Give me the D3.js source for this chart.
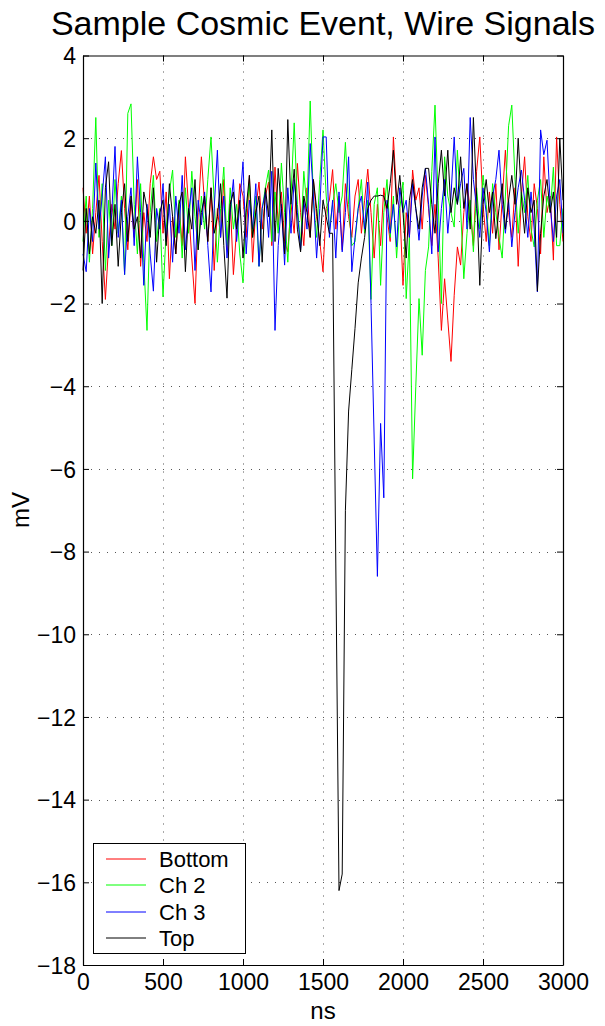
<!DOCTYPE html>
<html>
<head>
<meta charset="utf-8">
<script src="https://cdn.jsdelivr.net/npm/d3@7"></script>
<style>
  body { margin: 0; background: #fff; }
  text { font-family: "Liberation Sans", Arial, Helvetica, sans-serif; fill: #000; }
</style>
</head>
<body>
<svg id="chart" width="605" height="1026"></svg>
<script>
// Sampling grid of the digitiser (ns), one sample every 20 ns
const sampleTimes = d3.range(0, 3001, 20);

// Wire signals in mV
const bottomWire = [
  0.8, -0.3, 0.6, -0.8, 0.2, 1.1, -0.5, -1.9, -0.6, 0.4,
  -0.2, 0.9, 1.7, 0.3, -0.7, 0.5, -0.4, 1.0, -1.1, 0.2,
  -0.5, 0.9, 1.55, 1.0, 1.2, -0.3, 0.7, -1.4, 0.1, -0.8,
  0.4, -0.6, 1.55, 0.3, -0.9, -2.0, 0.2, 1.55, 0.4, -0.5,
  0.8, -1.2, 0.3, -0.4, 1.0, -0.7, 0.5, -1.3, -0.2, 0.9,
  0.6, -0.4, 1.1, -1.0, 0.3, 0.94, -0.2, 0.6, 0.94, -0.6,
  1.3, -0.1, 0.7, -0.5, -0.75, 0.4, -0.3, 1.39, 0.2, -0.6,
  0.8, -0.4, 1.0, 0.1, -0.5, -1.23, 0.3, 0.5, 1.24, -0.2,
  0.6, -0.7, 0.9, 0.1, -0.4, 0.6, 1.0, -0.3, 0.5, 1.25,
  0.2, -0.9, 0.4, -0.6, 0.8, 0.1, -0.5, 2.03, 0.6, 0.3,
  -1.56, 0.2, -0.4, 1.23, 0.5, 0.8, -0.2, 1.1, 0.3, -0.6,
  0.4, -0.9, -2.65, -1.4, -2.4, -3.4, -1.8, -0.63, -1.07, 0.2,
  0.9, 0.3, -0.6, 1.2, 2.03, 0.4, -0.5, 0.7, -0.3, 0.9,
  -0.7, 0.5, 1.71, 0.2, -0.4, 0.8, -1.1, 0.6, 1.55, 0.1,
  -0.5, 0.9, 0.3, -0.8, 1.55, 0.2, 0.6, -0.95, 2.03, 0.4,
  -0.5
];
const ch2Wire = [
  -0.5, 0.6, -1.0, 0.3, 2.5, -0.4, 0.9, -1.2, 0.5, -0.6,
  1.0, -0.3, 0.6, -1.3, 2.6, 2.83, 0.4, -0.8, 0.9, -1.0,
  -2.65, 0.2, 1.1, -0.5, 0.3, -1.84, -0.2, 0.7, 1.23, -0.4,
  0.5, -0.9, 0.8, -0.3, 1.2, 0.1, -0.7, 0.6, -0.2, 1.0,
  2.03, 0.5, -1.0, 0.3, 1.3, -0.6, 0.8, -0.2, 0.4, -0.8,
  -1.5, 0.2, 0.9, -0.4, 0.6, -1.1, 0.3, 0.8, 1.23, -0.5,
  0.7, -0.3, 1.4, 0.2, -1.0, 0.6, 2.37, 0.4, -0.6, 1.2,
  0.3, 2.9, 0.5, -0.4, 1.0, 2.2, 0.6, -0.2, 0.4, 0.9,
  0.2, 0.6, 1.9, 0.4, -0.6, -0.5, 0.3, 1.0, -0.3, 0.5,
  -1.9, 0.4, 0.8, -1.56, 0.2, 1.0, -0.4, 0.6, -0.9, 0.3,
  0.94, -1.88, -0.4, -6.24, -4.0, -1.88, -3.25, -1.2, -0.63, 1.2,
  2.8, 0.5, -2.0, 1.55, 0.6, 0.2, -0.15, 1.71, 0.3, -1.4,
  -0.3, 0.5, -0.75, 0.8, -0.2, 1.1, 0.4, -0.6, 0.9, 0.2,
  -0.4, -0.9, 0.6, 2.3, 2.8, 1.0, -0.3, 0.7, 0.2, 1.1,
  -0.2, -0.63, 0.5, 1.0, -0.4, 0.6, 0.2, 1.3, -0.6, -0.6,
  0.3
];
const ch3Wire = [
  -0.8, -1.23, 0.3, -0.5, 1.4, -0.2, 0.6, 1.55, -0.9, 0.2,
  1.8, -0.4, 0.5, -1.3, 0.1, 0.8, -0.6, 1.55, 0.2, -1.56,
  0.4, -0.8, -1.7, 0.3, -0.2, 0.9, -0.5, 0.4, -1.0, 0.6,
  -0.3, 1.1, -0.7, 0.2, 0.8, -1.2, 0.5, -0.1, 0.7, -0.6,
  -1.72, 0.3, 1.71, -0.4, 0.6, -0.9, 0.2, 1.0, -0.5, 0.4,
  1.43, -0.8, 0.5, -0.2, 0.9, -1.1, 0.3, 0.7, -0.4, 1.2,
  -2.65, -0.6, 0.4, -1.07, 0.8, -0.3, 1.0, 0.2, -0.7, 0.5,
  -0.2, 1.87, 0.6, -0.9, 0.3, 2.03, 2.03, -0.4, 0.5, -0.9,
  0.7, -0.75, 0.2, 1.55, -1.23, -0.4, 0.3, 0.6, -0.2, 0.94,
  -2.0, -5.3, -8.6, -4.9, -6.7, 0.5, -0.3, 0.4, -0.63, 0.8,
  0.2, 0.5, -0.4, 0.9, 0.3, -0.47, 0.6, 1.27, 0.4, -0.8,
  2.03, -0.75, 0.3, 1.0, -0.3, 0.6, 2.03, 0.4, 0.9, 1.27,
  -0.2, 2.5, 1.0, 0.3, -0.4, 0.8, 0.2, -0.75, 0.6, 1.0,
  1.71, 0.4, -0.3, 0.5, -0.63, 0.2, 0.8, 1.23, 0.5, -0.4,
  0.7, -0.2, -1.72, 2.2, 1.6, 1.95, 0.4, -0.5, 0.6, 1.0,
  -0.3
];
const topWire = [
  -1.2, 0.3, -0.8, 0.1, -0.3, 0.5, -2.0, 0.8, 1.43, -0.6,
  0.4, -1.1, 0.2, 0.9, -0.5, 0.6, -0.2, 0.1, -0.9, 0.7,
  0.3, -0.4, 0.8, -1.0, 0.2, 0.5, -0.6, 0.9, 0.1, -0.8,
  0.4, 0.7, -1.23, 0.3, -0.2, 1.0, -0.7, 0.2, 0.6, -0.5,
  0.8, -0.3, 0.1, 0.9, -0.6, -1.87, 0.4, 0.7, -0.2, 0.5,
  -0.9, 0.3, 1.1, -0.4, 0.2, 0.6, -1.0, 0.8, 0.1, 2.2,
  -0.5, 1.27, 0.3, -0.8, 2.45, 0.4, 1.25, -0.2, -0.75, 0.6,
  0.2, -0.4, 1.0, 0.3, -0.6, 0.5, 0.1, -0.3, -0.3, -8.3,
  -16.2, -15.8, -7.0, -4.6, -3.6, -2.6, -1.5, -0.9, -0.4, 0.3,
  0.5, 0.6, 0.6, 0.62, 0.6, 0.3, 0.9, 1.71, 0.4, 1.1,
  0.2, -0.9, 0.5, 1.0, 0.3, -0.2, 0.8, 1.27, 1.27, 0.4,
  -0.3, 0.9, 1.71, 0.6, 1.71, 0.2, 0.8, 0.4, 1.55, 0.3,
  0.9, -0.2, 2.5, 0.6, -1.56, 0.4, 1.0, 0.2, 0.7, -0.43,
  0.3, 0.9, -0.2, 0.5, 1.1, 0.4, 2.0, 0.6, -0.3, 0.8,
  0.2, 0.5, -1.7, -0.3, 0.6, 1.0, 0.2, 0.7, -0.4, 2.0,
  0.5
];

const seriesNames = ["Bottom", "Ch 2", "Ch 3", "Top"];
const seriesColors = ["#ff0000", "#00ff00", "#0000ff", "#000000"];
const seriesValues = [bottomWire, ch2Wire, ch3Wire, topWire];

const xTicks = [0, 500, 1000, 1500, 2000, 2500, 3000];
const yTicks = [-18, -16, -14, -12, -10, -8, -6, -4, -2, 0, 2, 4];

const svg = d3.select("#chart");
const left = 83, right = 563, plotTop = 55.5, plotBottom = 965;

const x = d3.scaleLinear().domain([0, 3000]).range([left, right]);
const y = d3.scaleLinear().domain([-18, 4]).range([plotBottom, plotTop]);

// Dotted grid
const grid = svg.append("g").attr("stroke", "#555").attr("stroke-width", 1)
  .attr("stroke-dasharray", "1,7");
xTicks.slice(1, -1).forEach(t => {
  grid.append("line")
    .attr("x1", Math.round(x(t)) + 0.5).attr("x2", Math.round(x(t)) + 0.5)
    .attr("y1", plotTop).attr("y2", plotBottom);
});
yTicks.slice(1, -1).forEach(t => {
  grid.append("line")
    .attr("y1", Math.round(y(t)) + 0.5).attr("y2", Math.round(y(t)) + 0.5)
    .attr("x1", left).attr("x2", right);
});

// Signals, drawn in the plotting order so Top ends up on top
const line = d3.line()
  .x((d, i) => x(sampleTimes[i]))
  .y(d => y(d));
seriesValues.forEach((vals, k) => {
  svg.append("path")
    .datum(vals)
    .attr("fill", "none")
    .attr("stroke", seriesColors[k])
    .attr("stroke-width", 1)
    .attr("d", line);
});

// Axes with inward ticks on all four sides
const fmt = d => d < 0 ? "\u2212" + Math.abs(d) : String(d);
const axB = svg.append("g").attr("transform", `translate(0,${plotBottom})`)
  .call(d3.axisBottom(x).tickValues(xTicks).tickSizeInner(-6).tickSizeOuter(0)
    .tickPadding(9).tickFormat(fmt));
const axT = svg.append("g").attr("transform", `translate(0,${plotTop})`)
  .call(d3.axisTop(x).tickValues(xTicks).tickSizeInner(-6).tickSizeOuter(0).tickFormat(""));
const axL = svg.append("g").attr("transform", `translate(${left},0)`)
  .call(d3.axisLeft(y).tickValues(yTicks).tickSizeInner(-6).tickSizeOuter(0)
    .tickPadding(7).tickFormat(fmt));
const axR = svg.append("g").attr("transform", `translate(${right},0)`)
  .call(d3.axisRight(y).tickValues(yTicks).tickSizeInner(-6).tickSizeOuter(0).tickFormat(""));

[axB, axT, axL, axR].forEach(a => {
  a.selectAll(".domain").attr("stroke", "#000").attr("stroke-width", 1.2);
  a.selectAll(".tick line").attr("stroke", "#000").attr("stroke-width", 1);
  a.selectAll("text").attr("font-size", 23)
    .attr("font-family", "'Liberation Sans', Arial, sans-serif").attr("fill", "#000");
});
axL.selectAll("text").attr("dy", "0.36em");

// Titles
svg.append("text").attr("x", 323).attr("y", 35).attr("text-anchor", "middle")
  .attr("font-size", 34).text("Sample Cosmic Event, Wire Signals");
svg.append("text").attr("x", 323).attr("y", 1019).attr("text-anchor", "middle")
  .attr("font-size", 24).text("ns");
svg.append("text").attr("transform", "translate(29,510) rotate(-90)")
  .attr("text-anchor", "middle").attr("font-size", 24).text("mV");

// Legend
const leg = svg.append("g");
leg.append("rect").attr("x", 93.5).attr("y", 843.5).attr("width", 152).attr("height", 110)
  .attr("fill", "#fff").attr("stroke", "#000").attr("stroke-width", 1);
const rowY = [859, 885, 912, 938];
seriesNames.forEach((name, k) => {
  leg.append("line").attr("x1", 106).attr("x2", 146)
    .attr("y1", rowY[k]).attr("y2", rowY[k])
    .attr("stroke", seriesColors[k]).attr("stroke-width", 1);
  leg.append("text").attr("x", 159).attr("y", rowY[k] + 8)
    .attr("font-size", 22).text(name);
});
</script>
</body>
</html>
